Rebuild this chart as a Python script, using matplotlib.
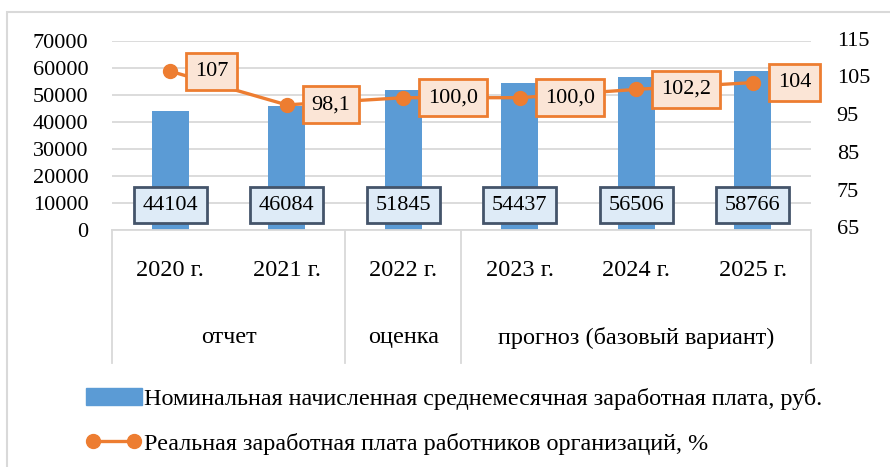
import numpy as np
import matplotlib
matplotlib.use('Agg')
import matplotlib.pyplot as plt
import matplotlib.transforms as mtransforms
from matplotlib.patches import Rectangle, Patch
from matplotlib.lines import Line2D

plt.rcParams['font.family'] = ['Liberation Serif', 'DejaVu Serif']
plt.rcParams['font.size'] = 16

# Данные
years = ['2020 г.', '2021 г.', '2022 г.', '2023 г.', '2024 г.', '2025 г.']
groups = ['отчет', 'оценка', 'прогноз (базовый вариант)']
group_sizes = [2, 1, 3]
nominal = [44104, 46084, 51845, 54437, 56506, 58766]
real = [107, 98.1, 100.0, 100.0, 102.2, 104]
real_labels = ['107', '98,1', '100,0', '100,0', '102,2', '104']
right_ticks = [65, 75, 85, 95, 105, 115]
name_nominal = 'Номинальная начисленная среднемесячная заработная плата, руб.'
name_real = 'Реальная заработная плата работников организаций, %'

blue = '#5B9BD5'
orange = '#ED7D31'
gray = '#D9D9D9'

fig = plt.figure(figsize=(8.9, 4.67), dpi=100)
ax = fig.add_axes([0.1258, 0.5075, 0.7854, 0.4047])
ax2 = ax.twinx()

x = np.arange(len(years))
ax.bar(x, nominal, width=0.32, color=blue, zorder=2)
ax.set_xlim(-0.5, 5.5)
ax.set_ylim(0, 70000)
ax.set_yticks(np.arange(0, 70001, 10000))
ax.yaxis.grid(True, color=gray, lw=1.3)
ax.set_axisbelow(True)
ax.set_xticks([])

# правая ось: подписи рисуем сами
ax2.set_ylim(65, 115)
ax2.set_yticks(right_ticks)
ax2.set_yticklabels([])
rtrans = mtransforms.blended_transform_factory(ax2.transAxes, ax2.transData)
for v in right_ticks:
    ax2.annotate(str(v), (1, v), xycoords=rtrans, xytext=(18.5, 0), textcoords='offset points',
                 ha='left', va='center', zorder=20, annotation_clip=False)

for a in (ax, ax2):
    for s in a.spines.values():
        s.set_visible(False)
    a.tick_params(length=0)
ax.spines['bottom'].set_visible(True)
ax.spines['bottom'].set_color(gray)
ax.spines['bottom'].set_linewidth(1.3)
ax.tick_params(axis='y', pad=17)

# подписи столбцов
trans = mtransforms.blended_transform_factory(ax.transData, ax.transAxes)
for xi, v in zip(x, nominal):
    ax.text(xi, 0.132, f'{v}', transform=trans, ha='center', va='center', zorder=5,
            bbox=dict(boxstyle='square,pad=0.4', facecolor='#DEEBF7', edgecolor='#44546A', lw=2))

# линия
ax2.plot(x, real, color=orange, lw=2.4, marker='o', ms=10, zorder=3)
for xi, v, lab in zip(x, real, real_labels):
    ax2.annotate(lab, (xi, v), xytext=(18, 0), textcoords='offset points',
                 ha='left', va='center', zorder=6,
                 bbox=dict(boxstyle='square,pad=0.4', facecolor='#FBE5D6', edgecolor=orange, lw=2))

# многоуровневая ось категорий
for xi, lab in zip(x, years):
    ax.text(xi, -0.215, lab, transform=trans, ha='center', va='center', fontsize=17.5)
edges = np.concatenate([[0], np.cumsum(group_sizes)]) - 0.5
for k, g in enumerate(groups):
    mid = (edges[k] + edges[k + 1]) / 2
    ax.text(mid, -0.57, g, transform=trans, ha='center', va='center', fontsize=17.5)
for e in edges:
    ax.plot([e, e], [0, -0.704], transform=trans, color=gray, lw=1.3, clip_on=False)

# легенда
handles = [Patch(color=blue),
           Line2D([], [], color=orange, lw=2.4, marker='o', ms=10)]
fig.legend(handles, [name_nominal, name_real], loc='center left',
           bbox_to_anchor=(86 / 890, 1 - 421.5 / 467), frameon=False, fontsize=17.4,
           handlelength=2.3, handletextpad=0.12, labelspacing=0.92,
           borderpad=0, borderaxespad=0, numpoints=2)

# рамка диаграммы
fig.add_artist(Rectangle((7 / 890, -0.1), 1.2, 1.1 - 12 / 467, transform=fig.transFigure,
                         fill=False, edgecolor=gray, lw=1.5))

fig.savefig('out.png', dpi=100)
